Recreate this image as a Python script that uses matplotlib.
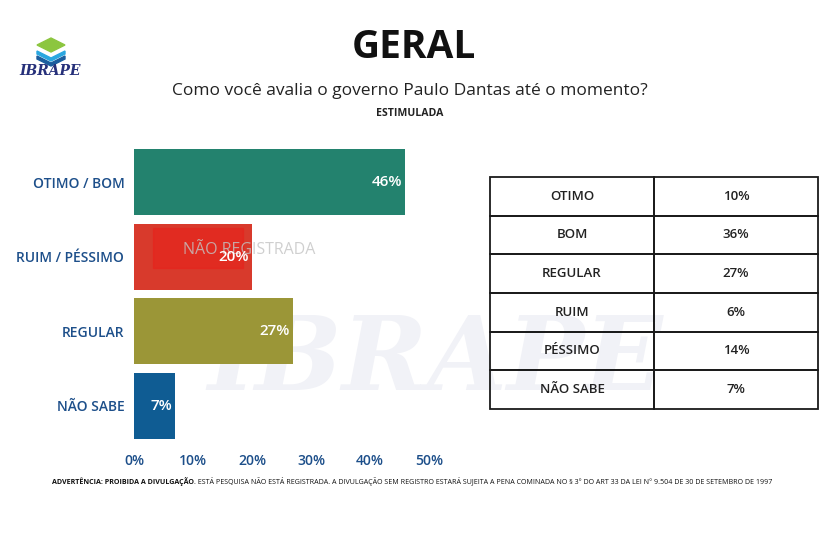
import numpy as np
import matplotlib.pyplot as plt
from matplotlib.patches import Polygon, Rectangle

plt.rcParams['font.family'] = ['Open Sans', 'DejaVu Sans']

# data
categories = ['OTIMO / BOM', 'RUIM / PÉSSIMO', 'REGULAR', 'NÃO SABE']
values = [46, 20, 27, 7]
bar_colors = ['#23826e', '#d83a2c', '#9b9637', '#0f5c93']
table_labels = ['OTIMO', 'BOM', 'REGULAR', 'RUIM', 'PÉSSIMO', 'NÃO SABE']
table_values = ['10%', '36%', '27%', '6%', '14%', '7%']
xticks = [0, 10, 20, 30, 40, 50]

W, H = 825, 545
fig = plt.figure(figsize=(W / 100, H / 100), dpi=100)
fig.patch.set_facecolor('white')

def fx(px):
    return px / W

def fy(py):
    return 1 - py / H

# faint background watermark, in its own axes behind everything
bg = fig.add_axes([0, 0, 1, 1], zorder=-5)
bg.axis('off')
bg.set_xlim(0, W)
bg.set_ylim(H, 0)
bg.text(435, 362, 'IBRAPE', fontsize=74, family='DejaVu Serif', style='italic',
        weight='bold', color='#f1f2f7', ha='center', va='center')

# bar chart
ax = fig.add_axes([fx(134), fy(447), fx(429) - fx(134), (447 - 141) / H])
ax.set_facecolor('none')
y = np.arange(len(categories))
ax.barh(y, values, height=0.89, color=bar_colors, zorder=2)
for yi, v in zip(y, values):
    ax.text(v - 0.6, yi, f'{v}%', ha='right', va='center', color='white',
            fontsize=11, weight='semibold', zorder=4)
ax.set_xlim(0, 50)
ax.set_ylim(len(categories) - 0.5 + 0.055, -0.5 - 0.055)
ax.set_yticks(y)
ax.set_yticklabels(categories, color='#1d4f8a', fontsize=10, weight='semibold')
ax.set_xticks(xticks)
ax.set_xticklabels([f'{t}%' for t in xticks], color='#1d4f8a', fontsize=10, weight='semibold')
ax.tick_params(axis='x', length=0, pad=5)
ax.tick_params(axis='y', length=0, pad=7)
for s in ax.spines.values():
    s.set_visible(False)

# "NÃO REGISTRADA" stamp: over the bars, under the value labels
stamp = Rectangle((fx(153), fy(268)), fx(243) - fx(153), (268 - 228) / H,
                  transform=fig.transFigure, color='#e8221b', alpha=0.6, zorder=3, clip_on=False)
ax.add_patch(stamp)
ax.text(fx(249), fy(250), 'NÃO REGISTRADA', transform=fig.transFigure, fontsize=11.5,
        color='#c4c4c4', alpha=0.8, ha='center', va='center', zorder=3.5, clip_on=False)

# table
tax = fig.add_axes([fx(490), fy(409), fx(818) - fx(490), (409 - 177) / H])
tax.axis('off')
tbl = tax.table(cellText=[[a, b] for a, b in zip(table_labels, table_values)],
                cellLoc='center', bbox=[0, 0, 1, 1])
tbl.auto_set_font_size(False)
tbl.set_fontsize(9.5)
for (r, c), cell in tbl.get_celld().items():
    cell.set_linewidth(1.3)
    cell.set_edgecolor('#1a1a1a')
    cell.set_facecolor('none')
    cell.get_text().set_color('#222222')
    cell.get_text().set_weight('semibold')
    if c == 0:
        cell.set_width((654 - 490) / (818 - 490))
    else:
        cell.set_width((818 - 654) / (818 - 490))

# titles
fig.text(fx(414), fy(48), 'GERAL', fontsize=28, weight='bold', color='#111111',
         ha='center', va='center')
fig.text(fx(410), fy(91), 'Como você avalia o governo Paulo Dantas até o momento?',
         fontsize=12.5, color='#222222', ha='center', va='center')
fig.text(fx(410), fy(114), 'ESTIMULADA', fontsize=7.6, weight='bold', color='#222222',
         ha='center', va='center')

# logo
fig.patches.append(Polygon([(fx(37), fy(45)), (fx(51), fy(38)), (fx(65), fy(45)), (fx(51), fy(52))],
                           transform=fig.transFigure, color='#8cc63f', zorder=3))
fig.patches.append(Polygon([(fx(37), fy(51)), (fx(51), fy(58)), (fx(65), fy(51)), (fx(65), fy(54)),
                            (fx(51), fy(61)), (fx(37), fy(54))],
                           transform=fig.transFigure, color='#2aa7e0', zorder=3))
fig.patches.append(Polygon([(fx(37), fy(56)), (fx(51), fy(63)), (fx(65), fy(56)), (fx(65), fy(59)),
                            (fx(51), fy(66)), (fx(37), fy(59))],
                           transform=fig.transFigure, color='#1b5e9e', zorder=3))
fig.text(fx(50), fy(71), 'IBRAPE', fontsize=10, family='DejaVu Serif', style='italic',
         weight='bold', color='#26307a', ha='center', va='center')

# footer: bold part, then the rest right after it
warn = fig.text(fx(52), fy(481), 'ADVERTÊNCIA: PROIBIDA A DIVULGAÇÃO', fontsize=5.1,
                weight='bold', color='#111111', ha='left', va='center')
r = fig.canvas.get_renderer()
x_end = warn.get_window_extent(r).x1 / fig.bbox.width
fig.text(x_end, fy(481), '. ESTÁ PESQUISA NÃO ESTÁ REGISTRADA. A DIVULGAÇÃO SEM REGISTRO ESTARÁ '
         'SUJEITA A PENA COMINADA NO § 3° DO ART 33 DA LEI N° 9.504 DE 30 DE SETEMBRO DE 1997',
         fontsize=5.1, color='#111111', ha='left', va='center')

plt.savefig('out.png', dpi=100)
plt.close()
